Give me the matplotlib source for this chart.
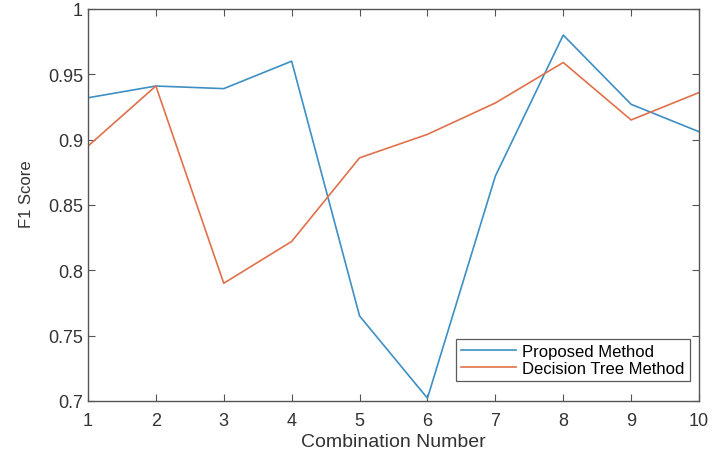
import matplotlib.pyplot as plt

combos = [1, 2, 3, 4, 5, 6, 7, 8, 9, 10]
proposed = [0.932, 0.941, 0.939, 0.960, 0.765, 0.702, 0.872, 0.980, 0.927, 0.906]
decision_tree = [0.895, 0.941, 0.790, 0.822, 0.886, 0.904, 0.928, 0.959, 0.915, 0.936]
y_ticks = [0.7, 0.75, 0.8, 0.85, 0.9, 0.95, 1.0]
y_labels = ['0.7', '0.75', '0.8', '0.85', '0.9', '0.95', '1']

plt.rcParams['font.family'] = ['Liberation Sans', 'DejaVu Sans']

fig = plt.figure(figsize=(7.27, 4.52), dpi=100)
ax = fig.add_axes([0.121, 0.111, 0.8405, 0.867])

ax.plot(combos, proposed, color='#3d8fc4', lw=1.2, label='Proposed Method')
ax.plot(combos, decision_tree, color='#e0714a', lw=1.2, label='Decision Tree Method')

ax.set_xlim(1, 10)
ax.set_ylim(0.7, 1.0)
ax.set_xticks(combos)
ax.set_yticks(y_ticks)
ax.set_yticklabels(y_labels)
ax.tick_params(direction='in', top=True, right=True, labelsize=13,
               colors='#555555', labelcolor='#333333', length=5, width=0.8)
ax.tick_params(axis='x', pad=8)
for s in ax.spines.values():
    s.set_color('#555555')
    s.set_linewidth(1.0)

ax.set_xlabel('Combination Number', fontsize=14, color='#333333', labelpad=3)
ax.set_ylabel('F1 Score', fontsize=12, color='#333333')
ax.yaxis.set_label_coords(-0.088, 0.53)

leg = ax.legend(loc='lower right', bbox_to_anchor=(0.985, 0.051), borderaxespad=0,
                fontsize=12, frameon=True, fancybox=False,
                edgecolor='#333333', borderpad=0.3, handlelength=3.3,
                handletextpad=0.4, labelspacing=0.1)
leg.get_frame().set_linewidth(0.9)

fig.savefig('out.png', dpi=100)
